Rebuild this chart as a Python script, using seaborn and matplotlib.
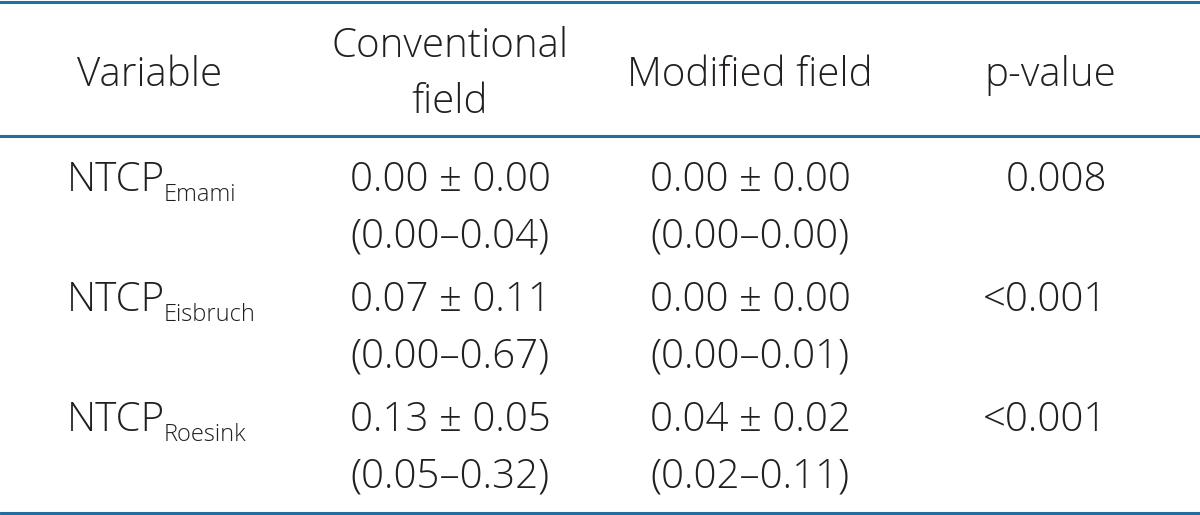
import matplotlib
matplotlib.use("Agg")
import matplotlib.pyplot as plt
import pandas as pd
import seaborn as sns

# table content
headers = ["Variable", "Conventional", "field", "Modified field", "p-value"]
variables = ["NTCP", "NTCP", "NTCP"]
subscripts = ["Emami", "Eisbruch", "Roesink"]
conv_mean_sd = ["0.00 \u00b1 0.00", "0.07 \u00b1 0.11", "0.13 \u00b1 0.05"]
conv_range = ["(0.00\u20130.04)", "(0.00\u20130.67)", "(0.05\u20130.32)"]
mod_mean_sd = ["0.00 \u00b1 0.00", "0.00 \u00b1 0.00", "0.04 \u00b1 0.02"]
mod_range = ["(0.00\u20130.00)", "(0.00\u20130.01)", "(0.02\u20130.11)"]
p_values = ["0.008", "<0.001", "<0.001"]

df = pd.DataFrame(
    {
        "var": variables,
        "sub": subscripts,
        "conv": conv_mean_sd,
        "conv_range": conv_range,
        "mod": mod_mean_sd,
        "mod_range": mod_range,
        "p": p_values,
    }
)

sns.set_theme(style="white")
plt.rcParams["font.family"] = ["Open Sans", "DejaVu Sans"]

TEXT = "#231f20"
RULE = "#236ea0"
FS = 29

fig = plt.figure(figsize=(12, 5.15), dpi=100)
ax = fig.add_axes([0, 0, 1, 1])
ax.set_xlim(0, 1200)
ax.set_ylim(515, 0)
ax.axis("off")

# rules
for y in [2, 136, 513]:
    ax.axhline(y, color=RULE, lw=2.2)

# header row
header_x = [150, 450, 450, 750, 1050]
header_base = [86, 57, 113, 86, 86]
for x, y, h in zip(header_x, header_base, headers):
    ax.text(x, y, h, ha="center", va="baseline", fontsize=FS, color=TEXT,
            fontweight="light")

# body rows
row_base = [191, 311, 431]
line_gap = 56
for i, row in df.iterrows():
    y = row_base[i]
    t = ax.text(67, y, row["var"], ha="left", va="baseline", fontsize=FS,
                color=TEXT, fontweight="light")
    ax.annotate(row["sub"], xy=(1, 0), xycoords=t, xytext=(-1, 0),
                textcoords="offset points", ha="left", va="baseline",
                fontsize=17, color=TEXT, fontweight="light")
    ax.text(450, y, row["conv"], ha="center", va="baseline", fontsize=FS,
            color=TEXT, fontweight="light")
    ax.text(450, y + line_gap, row["conv_range"], ha="center", va="baseline",
            fontsize=FS, color=TEXT, fontweight="light")
    ax.text(750, y, row["mod"], ha="center", va="baseline", fontsize=FS,
            color=TEXT, fontweight="light")
    ax.text(750, y + line_gap, row["mod_range"], ha="center", va="baseline",
            fontsize=FS, color=TEXT, fontweight="light")
    ax.text(1107, y, row["p"], ha="right", va="baseline", fontsize=FS,
            color=TEXT, fontweight="light")

fig.savefig("out.png", dpi=100)
